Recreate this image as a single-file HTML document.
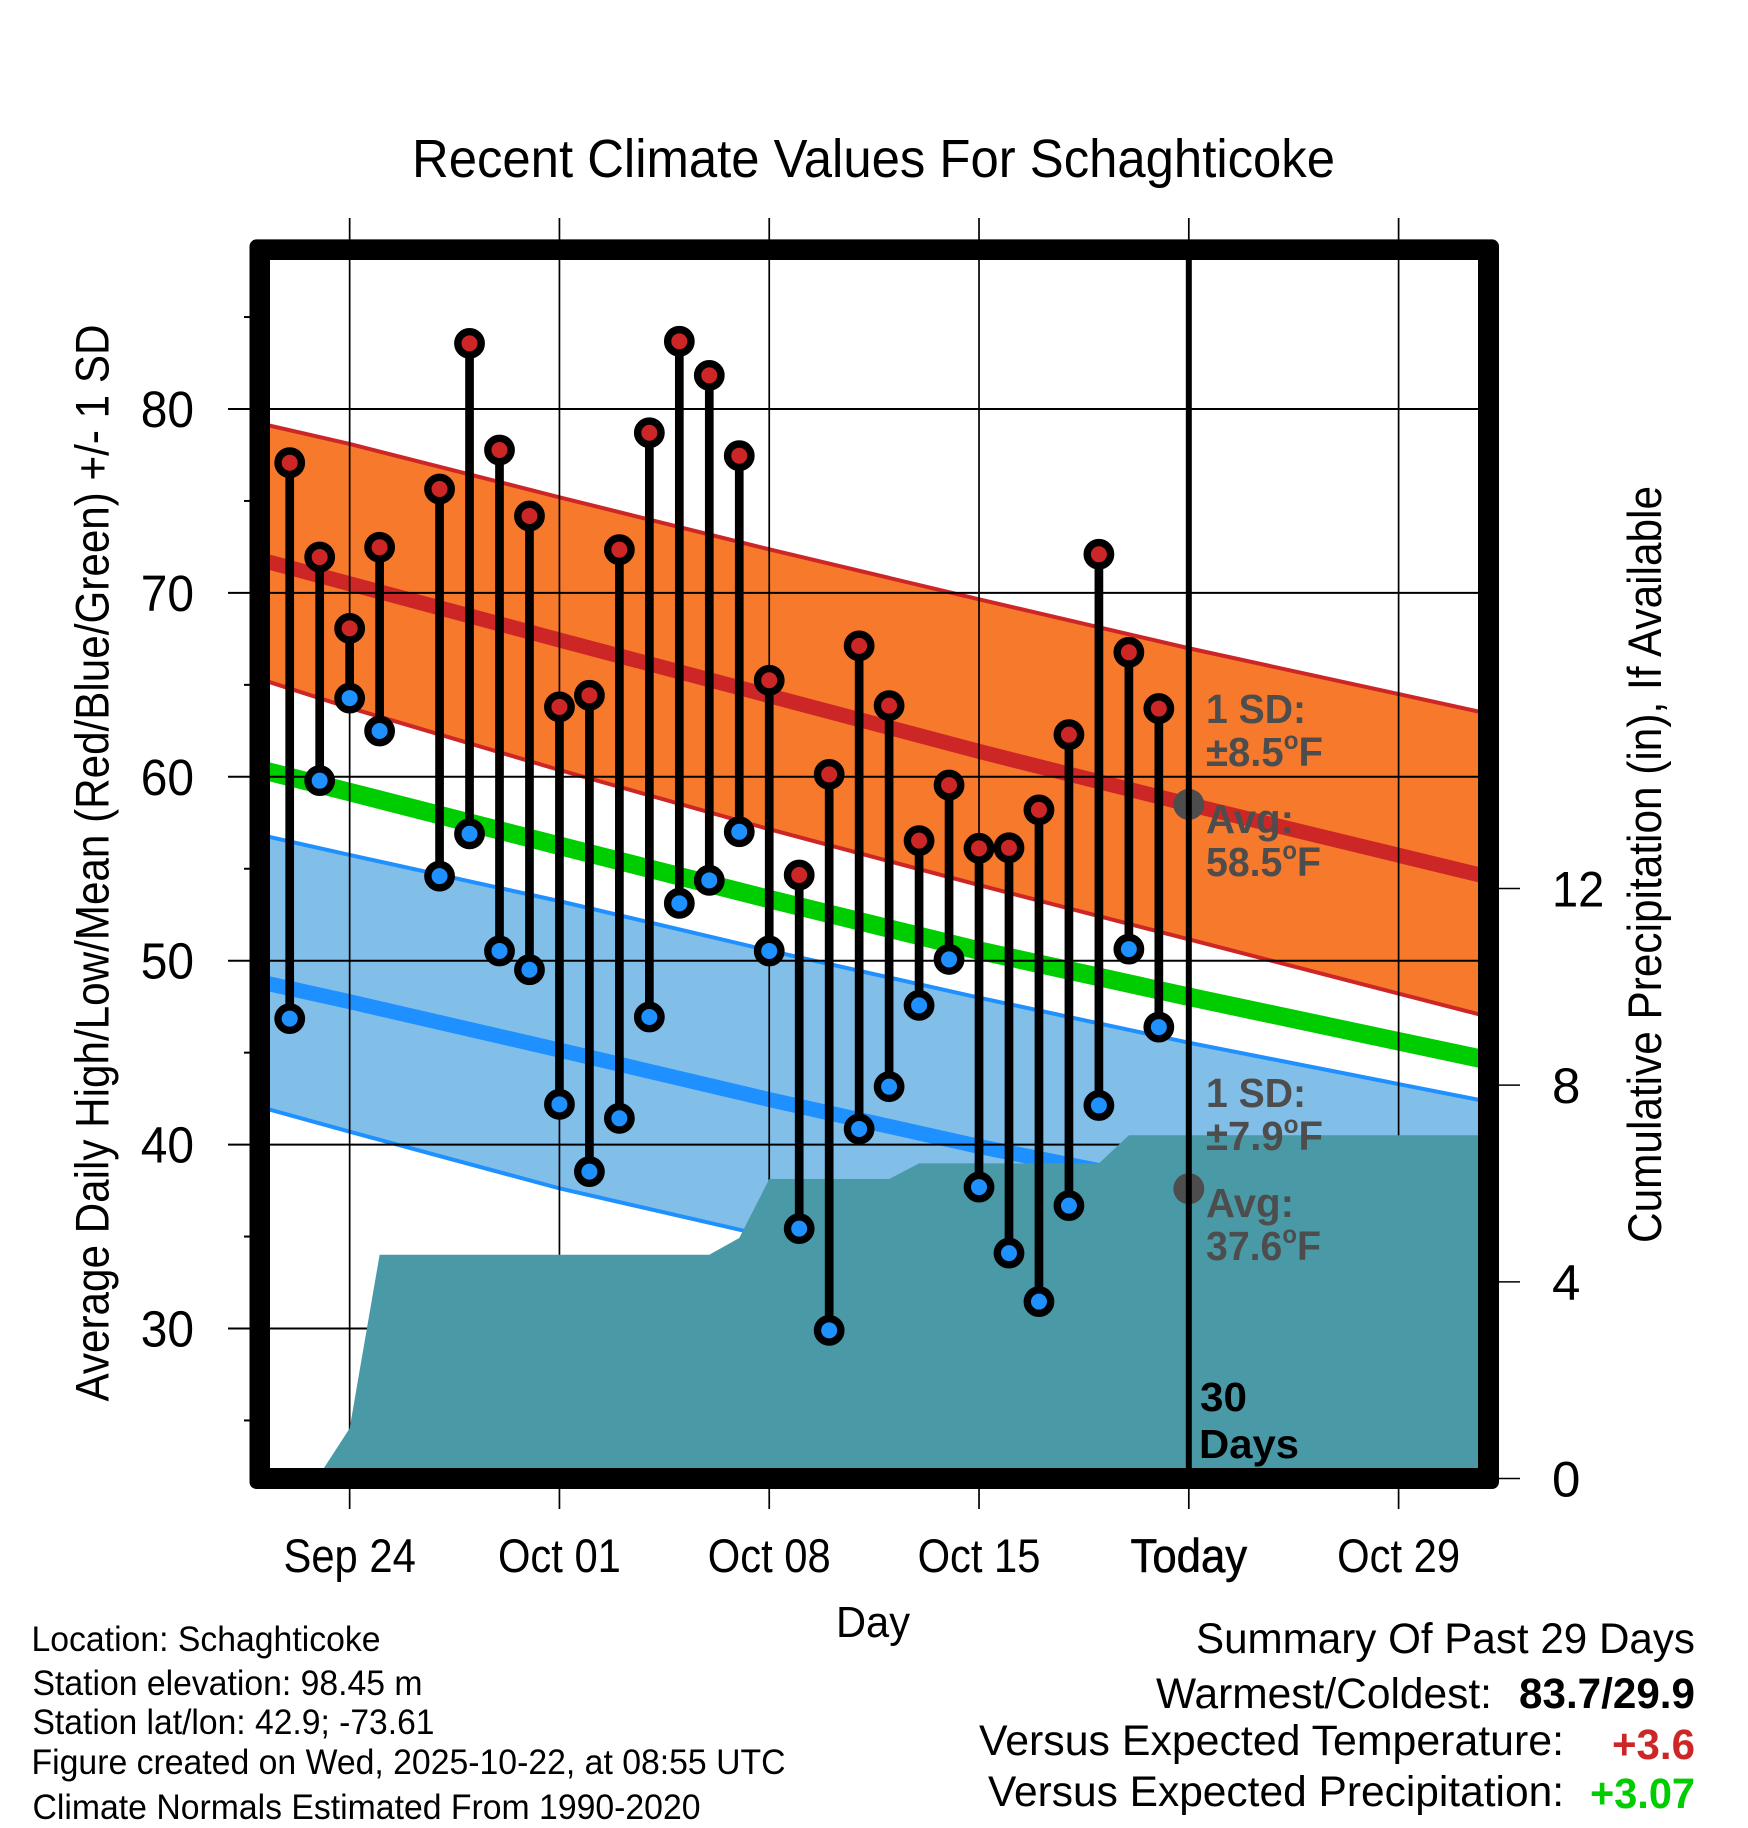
<!DOCTYPE html>
<html lang="en">
<head>
<meta charset="utf-8">
<title>Recent Climate Values For Schaghticoke</title>
<style>
html,body{margin:0;padding:0;background:#fff;}
svg{display:block;font-family:"Liberation Sans",Arial,sans-serif;}
.stat{font-size:35px;fill:#000;}
.sum{font-size:43px;fill:#000;}
.note{font-size:41px;font-weight:bold;fill:#4d4d4d;}
</style>
</head>
<body>
<svg id="chart" xmlns="http://www.w3.org/2000/svg" width="1748" height="1828" viewBox="0 0 1748 1828">
  <defs>
    <clipPath id="plot-clip"><rect x="270" y="260" width="1208" height="1208"></rect></clipPath>
  </defs>
  <rect x="0" y="0" width="1748" height="1828" fill="#fff"></rect>
  <g id="bands" clip-path="url(#plot-clip)"></g>
  <g id="grid"></g>
  <g id="precip" clip-path="url(#plot-clip)"></g>
  <g id="today"></g>
  <g id="marks"></g>
  <g id="ticklabels"></g>

  <path fill="#000" fill-rule="evenodd"
    d="M256.5 239.4H1492a7 7 0 0 1 7 7V1482a7 7 0 0 1 -7 7H256.5a7 7 0 0 1 -7 -7V246.4a7 7 0 0 1 7 -7Z M270 260V1468H1478V260Z"></path>

  <text x="873.5" y="177" text-anchor="middle" font-size="54" textLength="923" lengthAdjust="spacingAndGlyphs">Recent Climate Values For Schaghticoke</text>
  <text transform="translate(108.5 863) rotate(-90)" text-anchor="middle" font-size="47" textLength="1077" lengthAdjust="spacingAndGlyphs">Average Daily High/Low/Mean (Red/Blue/Green) +/- 1 SD</text>
  <text transform="translate(1661 864.5) rotate(-90)" text-anchor="middle" font-size="47" textLength="757" lengthAdjust="spacingAndGlyphs">Cumulative Precipitation (in), If Available</text>
  <text x="873" y="1637" text-anchor="middle" font-size="44" textLength="74" lengthAdjust="spacingAndGlyphs">Day</text>

  <text class="note" x="1206" y="723" textLength="100" lengthAdjust="spacingAndGlyphs">1 SD:</text>
  <text class="note" x="1206" y="766" textLength="117" lengthAdjust="spacingAndGlyphs">±8.5<tspan font-size="25" dy="-17">o</tspan><tspan dy="17">F</tspan></text>
  <text class="note" x="1206" y="833" textLength="88" lengthAdjust="spacingAndGlyphs">Avg:</text>
  <text class="note" x="1206" y="876" textLength="115" lengthAdjust="spacingAndGlyphs">58.5<tspan font-size="25" dy="-17">o</tspan><tspan dy="17">F</tspan></text>
  <text class="note" x="1206" y="1107" textLength="100" lengthAdjust="spacingAndGlyphs">1 SD:</text>
  <text class="note" x="1206" y="1150" textLength="117" lengthAdjust="spacingAndGlyphs">±7.9<tspan font-size="25" dy="-17">o</tspan><tspan dy="17">F</tspan></text>
  <text class="note" x="1206" y="1217" textLength="88" lengthAdjust="spacingAndGlyphs">Avg:</text>
  <text class="note" x="1206" y="1260" textLength="115" lengthAdjust="spacingAndGlyphs">37.6<tspan font-size="25" dy="-17">o</tspan><tspan dy="17">F</tspan></text>

  <text x="1200" y="1411" font-size="41" font-weight="bold" textLength="47" lengthAdjust="spacingAndGlyphs">30</text>
  <text x="1199" y="1458" font-size="41" font-weight="bold" textLength="100" lengthAdjust="spacingAndGlyphs">Days</text>

  <text class="stat" x="31.5" y="1651" textLength="349" lengthAdjust="spacingAndGlyphs">Location: Schaghticoke</text>
  <text class="stat" x="32.5" y="1695" textLength="390" lengthAdjust="spacingAndGlyphs">Station elevation: 98.45 m</text>
  <text class="stat" x="32.5" y="1734" textLength="402" lengthAdjust="spacingAndGlyphs">Station lat/lon: 42.9; -73.61</text>
  <text class="stat" x="31.5" y="1774" textLength="754" lengthAdjust="spacingAndGlyphs">Figure created on Wed, 2025-10-22, at 08:55 UTC</text>
  <text class="stat" x="32.5" y="1819" textLength="668" lengthAdjust="spacingAndGlyphs">Climate Normals Estimated From 1990-2020</text>

  <text class="sum" x="1196" y="1653" textLength="499" lengthAdjust="spacingAndGlyphs">Summary Of Past 29 Days</text>
  <text class="sum" x="1156" y="1708" textLength="336" lengthAdjust="spacingAndGlyphs">Warmest/Coldest:</text>
  <text class="sum" x="1519" y="1708" font-weight="bold" textLength="176" lengthAdjust="spacingAndGlyphs">83.7/29.9</text>
  <text class="sum" x="979" y="1755" textLength="585" lengthAdjust="spacingAndGlyphs">Versus Expected Temperature:</text>
  <text class="sum" x="1612" y="1759" font-weight="bold" style="fill:#cd2626" textLength="83" lengthAdjust="spacingAndGlyphs">+3.6</text>
  <text class="sum" x="988" y="1806" textLength="576" lengthAdjust="spacingAndGlyphs">Versus Expected Precipitation:</text>
  <text class="sum" x="1590" y="1808" font-weight="bold" style="fill:#00cd00" textLength="105" lengthAdjust="spacingAndGlyphs">+3.07</text>
</svg>

<script>
// Day numbers are counted from Sep 24 (0); today (Oct 22) is 28.
const dayNumbers = [-2,-1,0,1,3,4,5,6,7,8,9,10,11,12,13,14,15,16,17,18,19,20,21,22,23,24,25,26,27];
const dailyHighs = [77.08,71.95,68.07,72.48,75.65,83.57,77.77,74.18,63.8,64.43,72.35,78.71,83.68,81.83,77.46,65.25,54.66,60.13,67.12,63.87,56.53,59.55,56.11,56.14,58.2,62.29,72.1,66.77,63.71];
const dailyLows = [46.85,59.79,64.28,62.49,54.6,56.9,50.53,49.51,42.19,38.53,41.43,46.94,53.12,54.37,57.01,50.53,35.43,29.9,40.85,43.15,47.57,50.07,37.69,34.1,31.46,36.68,42.13,50.63,46.39];

const normalDays = [-3,0,7,14,21,28,38];
const highUpper = [79.22,78.1,75.2,72.37,69.65,66.99,63.43];
const highAverage = [71.81,70.5,67.44,64.41,61.38,58.5,54.55];
const highLower = [65.32,63.75,60.37,57.15,54.11,51.16,46.95];
const meanAverage = [60.4,59.17,56.25,53.35,50.55,48.04,44.58];
const lowUpper = [56.85,55.75,53.24,50.55,47.99,45.54,42.33];
const lowAverage = [48.85,47.77,45.14,42.45,39.9,37.6,33.8];
const lowLower = [42.05,40.7,37.62,35.0,32.3,29.7,26.0];

const precipDays = [-1,0,1,12,13,14,18,19,25,26,38];
const precipTotals = [0.08,1.02,4.55,4.55,4.89,6.09,6.09,6.41,6.41,6.98,6.98];

const todayDay = [28];
const todayAverages = [58.5,37.6];

const xTickDays = [0,7,14,21,28,35];
const xTickLabels = ["Sep 24","Oct 01","Oct 08","Oct 15","Today","Oct 29"];
const yMajorTicks = [30,40,50,60,70,80];
const yMinorTicks = [25,35,45,55,65,75,85];
const precipTicks = [0,4,8,12];

const xScale = d => 349.65 + 29.97 * d;
const yScale = v => 409 + (80 - v) * 18.39;
const precipScale = p => 1478.5 - 49.17 * p;

const NS = "http://www.w3.org/2000/svg";
function mk(parentId, tag, attrs) {
  const el = document.createElementNS(NS, tag);
  for (const k in attrs) el.setAttribute(k, attrs[k]);
  document.getElementById(parentId).appendChild(el);
  return el;
}
function condense(el, ratio) {
  el.setAttribute('textLength', (el.getComputedTextLength() * ratio).toFixed(1));
  el.setAttribute('lengthAdjust', 'spacingAndGlyphs');
}
const linePoints = (days, vals) => days.map((d, i) => xScale(d).toFixed(2) + "," + yScale(vals[i]).toFixed(2));

// bands
const orangeBand = mk('bands', 'polygon', {points: linePoints(normalDays, highUpper).concat(linePoints(normalDays, highLower).reverse()).join(' '), fill: '#f7792c'});


const blueBand = mk('bands', 'polygon', {points: linePoints(normalDays, lowUpper).concat(linePoints(normalDays, lowLower).reverse()).join(' '), fill: '#82bfe8'});



function addLine(vals, color, width) {
  return mk('bands', 'polyline', {points: linePoints(normalDays, vals).join(' '), fill: 'none', stroke: color, 'stroke-width': width});
}
const l1 = addLine(highUpper, '#cd2626', 4);


const l2 = addLine(highLower, '#cd2626', 4);


const l3 = addLine(highAverage, '#cd2626', 15);


const l4 = addLine(meanAverage, '#00cd00', 18.5);


const l5 = addLine(lowUpper, '#1e90ff', 4);


const l6 = addLine(lowLower, '#1e90ff', 4);


const l7 = addLine(lowAverage, '#1e90ff', 15);



// grid and ticks
xTickDays.forEach(d => {
  const g = mk('grid', 'line', {x1: xScale(d), x2: xScale(d), y1: 218, y2: 1509, stroke: '#000', 'stroke-width': 1.7});
  
  
});
yMajorTicks.forEach(v => {
  const g = mk('grid', 'line', {x1: 228, x2: 1478, y1: yScale(v), y2: yScale(v), stroke: '#000', 'stroke-width': 2});
  
  
});
yMinorTicks.forEach(v => {
  const g = mk('grid', 'line', {x1: 244, x2: 252, y1: yScale(v), y2: yScale(v), stroke: '#000', 'stroke-width': 2});
  
  
});
precipTicks.forEach(p => {
  const g = mk('grid', 'line', {x1: 1497, x2: 1520, y1: precipScale(p), y2: precipScale(p), stroke: '#000', 'stroke-width': 1.5});
  
  
});

// precipitation
const precipPts = precipDays.map((d, i) => xScale(d).toFixed(2) + "," + precipScale(precipTotals[i]).toFixed(2));
precipPts.push(xScale(precipDays[precipDays.length - 1]).toFixed(2) + "," + precipScale(0).toFixed(2));
precipPts.push(xScale(precipDays[0]).toFixed(2) + "," + precipScale(0).toFixed(2));
const precipArea = mk('precip', 'polygon', {points: precipPts.join(' '), fill: '#499aa6'});



// today markers
todayAverages.forEach(v => {
  const dot = mk('today', 'circle', {cx: xScale(todayDay[0]), cy: yScale(v), r: 15.5, fill: '#4d4d4d'});
  
  
});
const todayLine = mk('today', 'line', {x1: xScale(todayDay[0]), x2: xScale(todayDay[0]), y1: 250, y2: 1478, stroke: '#000', 'stroke-width': 6});



// daily bars
dayNumbers.forEach((d, i) => {
  const bar = mk('marks', 'line', {x1: xScale(d), x2: xScale(d), y1: yScale(dailyHighs[i]), y2: yScale(dailyLows[i]), stroke: '#000', 'stroke-width': 8.7});
  
  
  const hi = mk('marks', 'circle', {cx: xScale(d), cy: yScale(dailyHighs[i]), r: 11.7, fill: '#cd2626', stroke: '#000', 'stroke-width': 7.4});
  
  
  const lo = mk('marks', 'circle', {cx: xScale(d), cy: yScale(dailyLows[i]), r: 11.7, fill: '#1e90ff', stroke: '#000', 'stroke-width': 7.4});
  
  
});

// tick labels
xTickDays.forEach((d, i) => {
  const t = mk('ticklabels', 'text', {x: xScale(d), y: 1572, 'text-anchor': 'middle', 'font-size': 47});
  t.textContent = xTickLabels[i];
  
  
  if (xTickLabels[i] === 'Today') { t.setAttribute('stroke', '#000'); t.setAttribute('stroke-width', '0.6'); }
  condense(t, xTickLabels[i] === 'Today' ? 0.93 : 0.888);
});
yMajorTicks.forEach(v => {
  const t = mk('ticklabels', 'text', {x: 194, y: yScale(v) + 18, 'text-anchor': 'end', 'font-size': 51});
  t.textContent = String(v);
  
  
  condense(t, 0.94);
});
precipTicks.forEach(p => {
  const t = mk('ticklabels', 'text', {x: 1552, y: precipScale(p) + 18, 'text-anchor': 'start', 'font-size': 50});
  t.textContent = String(p);
  
  
  condense(t, String(p).length > 1 ? 0.94 : 1.02);
});
</script>
</body>
</html>
